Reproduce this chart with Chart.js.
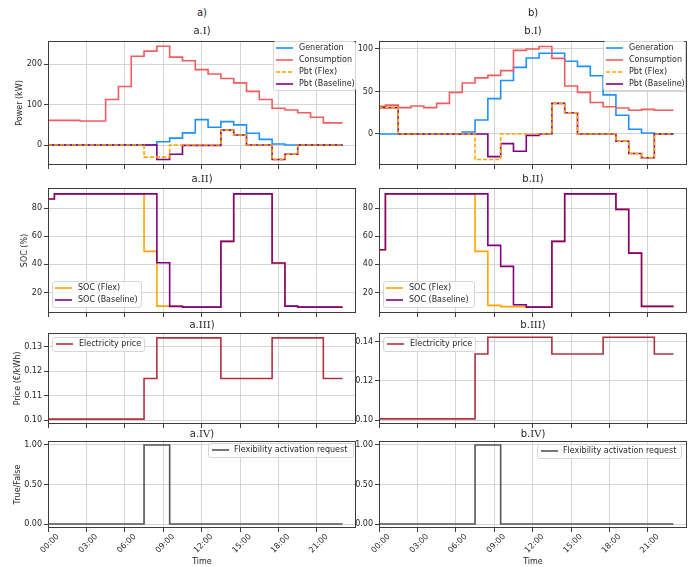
<!DOCTYPE html>
<html><head><meta charset="utf-8">
<script src="https://cdn.jsdelivr.net/npm/chart.js@4.4.1/dist/chart.umd.min.js"></script>
<style>
html,body{margin:0;padding:0;background:#fff;}
body{width:698px;height:567px;position:relative;overflow:hidden;font-family:'DejaVu Sans',sans-serif;color:#262626;}
canvas{position:absolute;}
.t{position:absolute;width:160px;text-align:center;font-size:10px;line-height:12px;white-space:nowrap;color:#262626;}
.rn{font-family:'DejaVu Serif',serif;}
.lg{position:absolute;box-sizing:border-box;border:1px solid #d6d6d6;border-radius:3px;background:rgba(255,255,255,0.8);font-size:8px;z-index:5;color:#262626;}
.lg .row{position:absolute;left:0;height:10px;line-height:10px;white-space:nowrap;}
</style></head><body>
<script>
// ---------------- DATA ----------------
const HOURS = [0,1,2,3,4,5,6,7,8,9,10,11,12,13,14,15,16,17,18,19,20,21,22,23];
const TIME_TICKS = [0,3,6,9,12,15,18,21];
const TIME_LABELS = ['00:00','03:00','06:00','09:00','12:00','15:00','18:00','21:00'];

// a) case
const A_GENERATION  = [0,0,0,0,0,0,0,0,0,8,17,30,63,44,58,50,29,14,2.5,0,0,0,0,0];
const A_CONSUMPTION = [61,61,61,59.5,59.5,113,145,220,233,245,218,209,187,176,165,154,133,113,91,87,80,69,55,55];
const A_PBT_FLEX    = [0,0,0,0,0,0,0,0,-30,-30,0,0,0,0,37,25,0,0,-36,-23,0,0,0,0];
const A_PBT_BASE    = [0,0,0,0,0,0,0,0,0,-36,-23,-1,-1,-1,37,25,0,0,-36,-23,0,0,0,0];
const A_SOC_FLEX    = [86.4,90,90,90,90,90,90,90,49.2,10.4,10.4,9.8,9.8,9.8,56.3,90,90,90,41,10.4,9.7,9.7,9.7,9.7];
const A_SOC_BASE    = [86.4,90,90,90,90,90,90,90,90,41.2,10.2,9.7,9.7,9.7,56.3,90,90,90,41,10.4,9.7,9.7,9.7,9.7];
const A_PRICE       = [0.1005,0.1005,0.1005,0.1005,0.1005,0.1005,0.1005,0.1005,0.117,0.1335,0.1335,0.1335,0.1335,0.1335,0.117,0.117,0.117,0.117,0.1335,0.1335,0.1335,0.1335,0.117,0.117];
const A_FLEX_REQ    = [0,0,0,0,0,0,0,0,1,1,0,0,0,0,0,0,0,0,0,0,0,0,0,0];

// b) case
const B_GENERATION  = [0,0,0,0,0,0,0,2.4,16.5,41.6,63,78.4,89.4,95,95,85.5,79.6,68.6,46,22,5.5,1.2,0,0];
const B_CONSUMPTION = [32.5,34,31,33,31,36,49,60,66,69,74.5,98.4,100,103,89,56.5,49,37,32,30.5,28,29,28,28];
const B_PBT_FLEX    = [31,31,0,0,0,0,0,0,-30,-30,0,0,0,0,36,25,0,0,0,-8.6,-23,-28,0,0];
const B_PBT_BASE    = [31,31,0,0,0,0,0,0,0,-26.7,-11.4,-20.4,-1.6,0,36,25,0,0,0,-8.6,-23,-28,0,0];
const B_SOC_FLEX    = [50.4,90,90,90,90,90,90,90,49.2,10.9,10,10,9.7,9.7,56.3,90,90,90,90,79,48,10.2,10.2,10.2];
const B_SOC_BASE    = [50.4,90,90,90,90,90,90,90,90,53.5,38.6,11.4,9.7,9.7,56.3,90,90,90,90,79,48,10.2,10.2,10.2];
const B_PRICE       = [0.1007,0.1007,0.1007,0.1007,0.1007,0.1007,0.1007,0.1007,0.1337,0.1422,0.1422,0.1422,0.1422,0.1422,0.1337,0.1337,0.1337,0.1337,0.1422,0.1422,0.1422,0.1422,0.1337,0.1337];
const B_FLEX_REQ    = [0,0,0,0,0,0,0,0,1,1,0,0,0,0,0,0,0,0,0,0,0,0,0,0];

// y tick values / labels
const A1_YTICKS = [0,100,200];            const A1_YLABELS = ['0','100','200'];
const B1_YTICKS = [0,50,100];             const B1_YLABELS = ['0','50','100'];
const SOC_YTICKS = [20,40,60,80];         const SOC_YLABELS = ['20','40','60','80'];
const A3_YTICKS = [0.10,0.11,0.12,0.13];  const A3_YLABELS = ['0.10','0.11','0.12','0.13'];
const B3_YTICKS = [0.10,0.12,0.14];       const B3_YLABELS = ['0.10','0.12','0.14'];
const REQ_YTICKS = [0,0.5,1];             const REQ_YLABELS = ['0.00','0.50','1.00'];

// ---------------- STYLE / LAYOUT ----------------
const C_GEN='#1e90ff', C_CONS='#f25c5c', C_FLEX='#ffa500', C_BASE='#800080', C_PRICE='#b0323f', C_REQ='#555555';
const GRID='#d4d4d4', TXT='#262626', FRAME='#3d3d3d';
const FONT={family:"'DejaVu Sans', sans-serif", size:8};
const COLS={a:{left:0,width:362,yW:48,padR:6,cx:202}, b:{left:345,width:353,yW:34,padR:11,cx:533}};
const ROWS={1:{top:31,h:144,xH:10,plotTop:41}, 2:{top:178,h:145,xH:10,plotTop:188}, 3:{top:323,h:111,xH:10,plotTop:333}, 4:{top:431,h:136,xH:39,plotTop:441}};

function pts(vals){ return HOURS.map((h,i)=>({x:h,y:vals[i]})); }
function ds(label, vals, color, order, dash){
  return {label, data:pts(vals), borderColor:color, backgroundColor:color, borderWidth:1.6,
    borderDash:dash||[], stepped:'middle', pointRadius:0, fill:false, order};
}

const framePlugin={id:'frame', afterDatasetsDraw(chart){
  const a=chart.chartArea, c=chart.ctx; c.save(); c.strokeStyle=FRAME; c.lineWidth=1;
  c.strokeRect(Math.round(a.left)+0.5, Math.round(a.top)+0.5, Math.round(a.right-a.left)-1, Math.round(a.bottom-a.top)-1);
  c.restore();
}};

function makeChart(cfg){
  const col=COLS[cfg.col], row=ROWS[cfg.row];
  const cv=document.createElement('canvas');
  cv.width=col.width; cv.height=row.h;
  cv.style.left=col.left+'px'; cv.style.top=row.top+'px';
  cv.style.width=col.width+'px'; cv.style.height=row.h+'px';
  document.body.appendChild(cv);
  const last=cfg.row===4;
  const chart=new Chart(cv.getContext('2d'),{
    type:'line',
    data:{datasets:cfg.datasets},
    options:{
      responsive:false, animation:false, devicePixelRatio:1,
      layout:{padding:{top:10,right:col.padR,left:0,bottom:0}},
      plugins:{legend:{display:false}, tooltip:{enabled:false}},
      scales:{
        x:{type:'linear', min:0, max:24.05,
          afterBuildTicks:(s)=>{s.ticks=TIME_TICKS.map(v=>({value:v}));},
          afterFit:(s)=>{s.height=row.xH;},
          grid:{color:GRID, tickColor:FRAME, tickLength:4, lineWidth:1},
          border:{display:false},
          ticks:{display:last, font:FONT, color:TXT, minRotation:45, maxRotation:45, padding:0, labelOffset:10,
            callback:(v)=>TIME_LABELS[TIME_TICKS.indexOf(v)]},
          title:{display:last, text:'Time', font:FONT, color:TXT, padding:{top:0,bottom:0}}
        },
        y:{type:'linear', min:cfg.yMin, max:cfg.yMax,
          afterBuildTicks:(s)=>{s.ticks=cfg.yTicks.map(v=>({value:v}));},
          afterFit:(s)=>{s.width=col.yW;},
          grid:{color:GRID, tickColor:FRAME, tickLength:4, lineWidth:1},
          border:{display:false},
          ticks:{font:FONT, color:TXT, padding:2, callback:(v,i)=>cfg.yLabels[i]},
          title:{display:!!cfg.yTitle, text:cfg.yTitle||'', font:FONT, color:TXT, padding:{top:(cfg.yTitleX||20)-4.8,bottom:0}}
        }
      }
    },
    plugins:[framePlugin]
  });
  return chart;
}

function addLegend(chart, spec){
  const div=document.createElement('div'); div.className='lg';
  div.style.left=spec.left+'px'; div.style.top=spec.top+'px'; div.style.width=spec.width+'px';
  div.style.height=(spec.labels.length*11.8+3)+'px';
  spec.labels.forEach((lab,k)=>{
    const d=chart.data.datasets.find(x=>x.label===lab);
    const row=document.createElement('div'); row.className='row'; row.style.top=(k*11.8+1.2)+'px';
    const dash=(d.borderDash&&d.borderDash.length)?`stroke-dasharray="${d.borderDash.join(',')}"`:'';
    row.innerHTML=`<svg width="20" height="10" style="position:absolute;left:${spec.lx||2}px;top:0"><line x1="0" y1="5" x2="17" y2="5" stroke="${d.borderColor}" stroke-width="1.6" ${dash}/></svg><span style="position:absolute;left:${spec.tx||25}px;top:0">${lab}</span>`;
    div.appendChild(row);
  });
  document.body.appendChild(div);
}

function addTitle(html, cx, cy, size){
  const d=document.createElement('div'); d.className='t'; d.innerHTML=html;
  d.style.left=(cx-80)+'px'; d.style.top=(cy-6)+'px';
  if(size) d.style.fontSize=size+'px';
  document.body.appendChild(d);
}

// ---------------- CHARTS ----------------
const DASH=[4,2];
const a1=makeChart({col:'a',row:1,yMin:-49.6,yMax:258,yTicks:A1_YTICKS,yLabels:A1_YLABELS,yTitle:'Power (kW)',yTitleX:20,
  datasets:[ds('Generation',A_GENERATION,C_GEN,3), ds('Consumption',A_CONSUMPTION,C_CONS,2),
            ds('Pbt (Flex)',A_PBT_FLEX,C_FLEX,0,DASH), ds('Pbt (Baseline)',A_PBT_BASE,C_BASE,1)]});
const b1=makeChart({col:'b',row:1,yMin:-36.5,yMax:109.4,yTicks:B1_YTICKS,yLabels:B1_YLABELS,
  datasets:[ds('Generation',B_GENERATION,C_GEN,3), ds('Consumption',B_CONSUMPTION,C_CONS,2),
            ds('Pbt (Flex)',B_PBT_FLEX,C_FLEX,0,DASH), ds('Pbt (Baseline)',B_PBT_BASE,C_BASE,1)]});
const a2=makeChart({col:'a',row:2,yMin:5.5,yMax:94.2,yTicks:SOC_YTICKS,yLabels:SOC_YLABELS,yTitle:'SOC (%)',yTitleX:25,
  datasets:[ds('SOC (Flex)',A_SOC_FLEX,C_FLEX,1), ds('SOC (Baseline)',A_SOC_BASE,C_BASE,0)]});
const b2=makeChart({col:'b',row:2,yMin:5.5,yMax:94.2,yTicks:SOC_YTICKS,yLabels:SOC_YLABELS,
  datasets:[ds('SOC (Flex)',B_SOC_FLEX,C_FLEX,1), ds('SOC (Baseline)',B_SOC_BASE,C_BASE,0)]});
const a3=makeChart({col:'a',row:3,yMin:0.0985,yMax:0.1355,yTicks:A3_YTICKS,yLabels:A3_YLABELS,yTitle:'Price (€/kWh)',yTitleX:18,
  datasets:[ds('Electricity price',A_PRICE,C_PRICE,0)]});
const b3=makeChart({col:'b',row:3,yMin:0.0981,yMax:0.1444,yTicks:B3_YTICKS,yLabels:B3_YLABELS,
  datasets:[ds('Electricity price',B_PRICE,C_PRICE,0)]});
const a4=makeChart({col:'a',row:4,yMin:-0.05,yMax:1.05,yTicks:REQ_YTICKS,yLabels:REQ_YLABELS,yTitle:'True/False',yTitleX:18,
  datasets:[ds('Flexibility activation request',A_FLEX_REQ,C_REQ,0)]});
const b4=makeChart({col:'b',row:4,yMin:-0.05,yMax:1.05,yTicks:REQ_YTICKS,yLabels:REQ_YLABELS,
  datasets:[ds('Flexibility activation request',B_FLEX_REQ,C_REQ,0)]});

// legends
const PBT_LEG=['Generation','Consumption','Pbt (Flex)','Pbt (Baseline)'];
const SOC_LEG=['SOC (Flex)','SOC (Baseline)'];
addLegend(a1,{left:273,top:41,width:83,labels:PBT_LEG});
addLegend(b1,{left:603,top:41,width:83,labels:PBT_LEG});
addLegend(a2,{left:52,top:281,width:90,labels:SOC_LEG});
addLegend(b2,{left:383,top:281,width:92,labels:SOC_LEG});
addLegend(a3,{left:52,top:337,width:93,labels:['Electricity price'],lx:3,tx:26});
addLegend(b3,{left:383,top:337,width:93,labels:['Electricity price'],lx:3,tx:26});
addLegend(a4,{left:208,top:443,width:146,labels:['Flexibility activation request'],lx:3,tx:25});
addLegend(b4,{left:537,top:444,width:145,labels:['Flexibility activation request'],lx:3,tx:25});

// titles
addTitle('a)',202,13); addTitle('b)',533,13);
addTitle('a.<span class="rn">I</span>)',202,31);   addTitle('b.<span class="rn">I</span>)',533,31);
addTitle('a.<span class="rn">II</span>)',202,179); addTitle('b.<span class="rn">II</span>)',533,179);
addTitle('a.<span class="rn">III</span>)',202,325); addTitle('b.<span class="rn">III</span>)',533,325);
addTitle('a.<span class="rn">IV</span>)',202,433.5); addTitle('b.<span class="rn">IV</span>)',533,433.5);
</script>
</body></html>
